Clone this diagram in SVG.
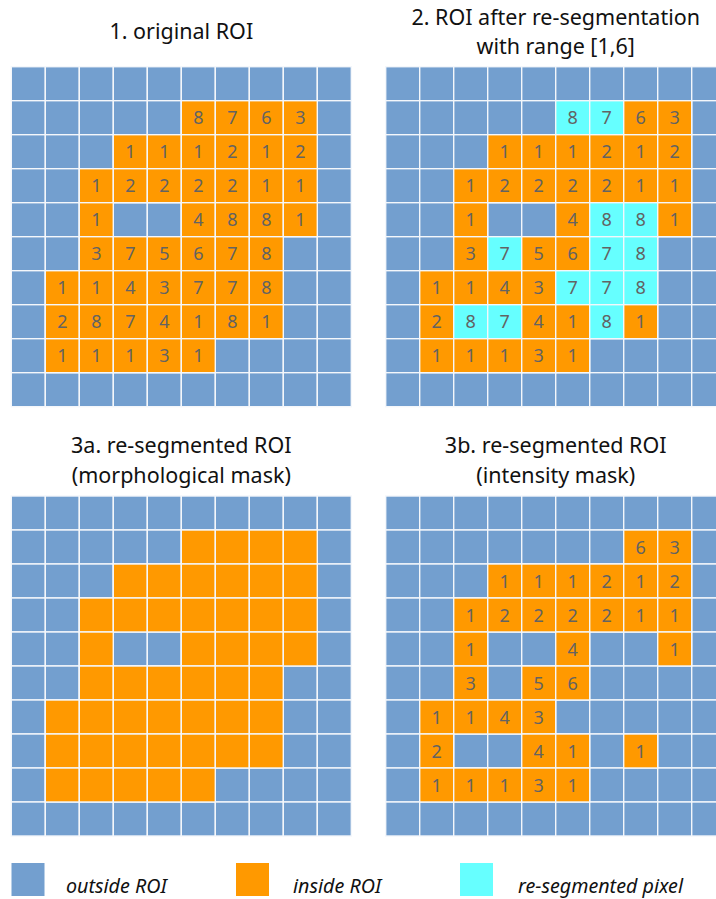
<svg xmlns="http://www.w3.org/2000/svg" width="716" height="899" viewBox="0 0 716 899">
<style>
.b{fill:#739fcf;stroke:#f4f7fb;stroke-width:1.4}
.o{fill:#ff9900;stroke:#f4f7fb;stroke-width:1.4}
.c{fill:#66ffff;stroke:#f4f7fb;stroke-width:1.4}
.n{font-family:"Noto Sans","Open Sans","Liberation Sans",sans-serif;font-size:18px;fill:#636363;text-anchor:middle}
.t{font-family:"Noto Sans","Open Sans","Liberation Sans",sans-serif;font-size:21.5px;fill:#111;text-anchor:middle}
.l{font-family:"Noto Sans","Open Sans","Liberation Sans",sans-serif;font-size:19.7px;font-style:italic;fill:#111}
</style>
<rect width="716" height="899" fill="#fff"/>
<defs>
<g id="bgrid">
<rect class="b" x="0" y="0" width="34" height="34"/><rect class="b" x="34" y="0" width="34" height="34"/><rect class="b" x="68" y="0" width="34" height="34"/><rect class="b" x="102" y="0" width="34" height="34"/><rect class="b" x="136" y="0" width="34" height="34"/><rect class="b" x="170" y="0" width="34" height="34"/><rect class="b" x="204" y="0" width="34" height="34"/><rect class="b" x="238" y="0" width="34" height="34"/><rect class="b" x="272" y="0" width="34" height="34"/><rect class="b" x="306" y="0" width="34" height="34"/>
</g>
<g id="grid10">
<use href="#bgrid" y="0"/><use href="#bgrid" y="34"/><use href="#bgrid" y="68"/><use href="#bgrid" y="102"/><use href="#bgrid" y="136"/><use href="#bgrid" y="170"/><use href="#bgrid" y="204"/><use href="#bgrid" y="238"/><use href="#bgrid" y="272"/><use href="#bgrid" y="306"/>
</g>
</defs>

<g id="panel1" transform="translate(11.3,66.7)">
<use href="#grid10"/>
<g>
<rect class="o" x="170" y="34" width="34" height="34"/><rect class="o" x="204" y="34" width="34" height="34"/><rect class="o" x="238" y="34" width="34" height="34"/><rect class="o" x="272" y="34" width="34" height="34"/>
<rect class="o" x="102" y="68" width="34" height="34"/><rect class="o" x="136" y="68" width="34" height="34"/><rect class="o" x="170" y="68" width="34" height="34"/><rect class="o" x="204" y="68" width="34" height="34"/><rect class="o" x="238" y="68" width="34" height="34"/><rect class="o" x="272" y="68" width="34" height="34"/>
<rect class="o" x="68" y="102" width="34" height="34"/><rect class="o" x="102" y="102" width="34" height="34"/><rect class="o" x="136" y="102" width="34" height="34"/><rect class="o" x="170" y="102" width="34" height="34"/><rect class="o" x="204" y="102" width="34" height="34"/><rect class="o" x="238" y="102" width="34" height="34"/><rect class="o" x="272" y="102" width="34" height="34"/>
<rect class="o" x="68" y="136" width="34" height="34"/><rect class="o" x="170" y="136" width="34" height="34"/><rect class="o" x="204" y="136" width="34" height="34"/><rect class="o" x="238" y="136" width="34" height="34"/><rect class="o" x="272" y="136" width="34" height="34"/>
<rect class="o" x="68" y="170" width="34" height="34"/><rect class="o" x="102" y="170" width="34" height="34"/><rect class="o" x="136" y="170" width="34" height="34"/><rect class="o" x="170" y="170" width="34" height="34"/><rect class="o" x="204" y="170" width="34" height="34"/><rect class="o" x="238" y="170" width="34" height="34"/>
<rect class="o" x="34" y="204" width="34" height="34"/><rect class="o" x="68" y="204" width="34" height="34"/><rect class="o" x="102" y="204" width="34" height="34"/><rect class="o" x="136" y="204" width="34" height="34"/><rect class="o" x="170" y="204" width="34" height="34"/><rect class="o" x="204" y="204" width="34" height="34"/><rect class="o" x="238" y="204" width="34" height="34"/>
<rect class="o" x="34" y="238" width="34" height="34"/><rect class="o" x="68" y="238" width="34" height="34"/><rect class="o" x="102" y="238" width="34" height="34"/><rect class="o" x="136" y="238" width="34" height="34"/><rect class="o" x="170" y="238" width="34" height="34"/><rect class="o" x="204" y="238" width="34" height="34"/><rect class="o" x="238" y="238" width="34" height="34"/>
<rect class="o" x="34" y="272" width="34" height="34"/><rect class="o" x="68" y="272" width="34" height="34"/><rect class="o" x="102" y="272" width="34" height="34"/><rect class="o" x="136" y="272" width="34" height="34"/><rect class="o" x="170" y="272" width="34" height="34"/>
</g>
<g class="n">
<text x="187" y="57.5">8</text><text x="221" y="57.5">7</text><text x="255" y="57.5">6</text><text x="289" y="57.5">3</text>
<text x="119" y="91.5">1</text><text x="153" y="91.5">1</text><text x="187" y="91.5">1</text><text x="221" y="91.5">2</text><text x="255" y="91.5">1</text><text x="289" y="91.5">2</text>
<text x="85" y="125.5">1</text><text x="119" y="125.5">2</text><text x="153" y="125.5">2</text><text x="187" y="125.5">2</text><text x="221" y="125.5">2</text><text x="255" y="125.5">1</text><text x="289" y="125.5">1</text>
<text x="85" y="159.5">1</text><text x="187" y="159.5">4</text><text x="221" y="159.5">8</text><text x="255" y="159.5">8</text><text x="289" y="159.5">1</text>
<text x="85" y="193.5">3</text><text x="119" y="193.5">7</text><text x="153" y="193.5">5</text><text x="187" y="193.5">6</text><text x="221" y="193.5">7</text><text x="255" y="193.5">8</text>
<text x="51" y="227.5">1</text><text x="85" y="227.5">1</text><text x="119" y="227.5">4</text><text x="153" y="227.5">3</text><text x="187" y="227.5">7</text><text x="221" y="227.5">7</text><text x="255" y="227.5">8</text>
<text x="51" y="261.5">2</text><text x="85" y="261.5">8</text><text x="119" y="261.5">7</text><text x="153" y="261.5">4</text><text x="187" y="261.5">1</text><text x="221" y="261.5">8</text><text x="255" y="261.5">1</text>
<text x="51" y="295.5">1</text><text x="85" y="295.5">1</text><text x="119" y="295.5">1</text><text x="153" y="295.5">3</text><text x="187" y="295.5">1</text>
</g>
</g>
<text class="t" x="181.3" y="39">1. original ROI</text>

<g id="panel2" transform="translate(385.7,66.7)">
<use href="#grid10"/>
<g>
<rect class="c" x="170" y="34" width="34" height="34"/><rect class="c" x="204" y="34" width="34" height="34"/><rect class="o" x="238" y="34" width="34" height="34"/><rect class="o" x="272" y="34" width="34" height="34"/>
<rect class="o" x="102" y="68" width="34" height="34"/><rect class="o" x="136" y="68" width="34" height="34"/><rect class="o" x="170" y="68" width="34" height="34"/><rect class="o" x="204" y="68" width="34" height="34"/><rect class="o" x="238" y="68" width="34" height="34"/><rect class="o" x="272" y="68" width="34" height="34"/>
<rect class="o" x="68" y="102" width="34" height="34"/><rect class="o" x="102" y="102" width="34" height="34"/><rect class="o" x="136" y="102" width="34" height="34"/><rect class="o" x="170" y="102" width="34" height="34"/><rect class="o" x="204" y="102" width="34" height="34"/><rect class="o" x="238" y="102" width="34" height="34"/><rect class="o" x="272" y="102" width="34" height="34"/>
<rect class="o" x="68" y="136" width="34" height="34"/><rect class="o" x="170" y="136" width="34" height="34"/><rect class="c" x="204" y="136" width="34" height="34"/><rect class="c" x="238" y="136" width="34" height="34"/><rect class="o" x="272" y="136" width="34" height="34"/>
<rect class="o" x="68" y="170" width="34" height="34"/><rect class="c" x="102" y="170" width="34" height="34"/><rect class="o" x="136" y="170" width="34" height="34"/><rect class="o" x="170" y="170" width="34" height="34"/><rect class="c" x="204" y="170" width="34" height="34"/><rect class="c" x="238" y="170" width="34" height="34"/>
<rect class="o" x="34" y="204" width="34" height="34"/><rect class="o" x="68" y="204" width="34" height="34"/><rect class="o" x="102" y="204" width="34" height="34"/><rect class="o" x="136" y="204" width="34" height="34"/><rect class="c" x="170" y="204" width="34" height="34"/><rect class="c" x="204" y="204" width="34" height="34"/><rect class="c" x="238" y="204" width="34" height="34"/>
<rect class="o" x="34" y="238" width="34" height="34"/><rect class="c" x="68" y="238" width="34" height="34"/><rect class="c" x="102" y="238" width="34" height="34"/><rect class="o" x="136" y="238" width="34" height="34"/><rect class="o" x="170" y="238" width="34" height="34"/><rect class="c" x="204" y="238" width="34" height="34"/><rect class="o" x="238" y="238" width="34" height="34"/>
<rect class="o" x="34" y="272" width="34" height="34"/><rect class="o" x="68" y="272" width="34" height="34"/><rect class="o" x="102" y="272" width="34" height="34"/><rect class="o" x="136" y="272" width="34" height="34"/><rect class="o" x="170" y="272" width="34" height="34"/>
</g>
<g class="n">
<text x="187" y="57.5">8</text><text x="221" y="57.5">7</text><text x="255" y="57.5">6</text><text x="289" y="57.5">3</text>
<text x="119" y="91.5">1</text><text x="153" y="91.5">1</text><text x="187" y="91.5">1</text><text x="221" y="91.5">2</text><text x="255" y="91.5">1</text><text x="289" y="91.5">2</text>
<text x="85" y="125.5">1</text><text x="119" y="125.5">2</text><text x="153" y="125.5">2</text><text x="187" y="125.5">2</text><text x="221" y="125.5">2</text><text x="255" y="125.5">1</text><text x="289" y="125.5">1</text>
<text x="85" y="159.5">1</text><text x="187" y="159.5">4</text><text x="221" y="159.5">8</text><text x="255" y="159.5">8</text><text x="289" y="159.5">1</text>
<text x="85" y="193.5">3</text><text x="119" y="193.5">7</text><text x="153" y="193.5">5</text><text x="187" y="193.5">6</text><text x="221" y="193.5">7</text><text x="255" y="193.5">8</text>
<text x="51" y="227.5">1</text><text x="85" y="227.5">1</text><text x="119" y="227.5">4</text><text x="153" y="227.5">3</text><text x="187" y="227.5">7</text><text x="221" y="227.5">7</text><text x="255" y="227.5">8</text>
<text x="51" y="261.5">2</text><text x="85" y="261.5">8</text><text x="119" y="261.5">7</text><text x="153" y="261.5">4</text><text x="187" y="261.5">1</text><text x="221" y="261.5">8</text><text x="255" y="261.5">1</text>
<text x="51" y="295.5">1</text><text x="85" y="295.5">1</text><text x="119" y="295.5">1</text><text x="153" y="295.5">3</text><text x="187" y="295.5">1</text>
</g>
</g>
<text class="t" x="555.7" y="25">2. ROI after re-segmentation</text>
<text class="t" x="555.7" y="54">with range [1,6]</text>

<g id="panel3a" transform="translate(11.3,496)">
<use href="#grid10"/>
<g>
<rect class="o" x="170" y="34" width="34" height="34"/><rect class="o" x="204" y="34" width="34" height="34"/><rect class="o" x="238" y="34" width="34" height="34"/><rect class="o" x="272" y="34" width="34" height="34"/>
<rect class="o" x="102" y="68" width="34" height="34"/><rect class="o" x="136" y="68" width="34" height="34"/><rect class="o" x="170" y="68" width="34" height="34"/><rect class="o" x="204" y="68" width="34" height="34"/><rect class="o" x="238" y="68" width="34" height="34"/><rect class="o" x="272" y="68" width="34" height="34"/>
<rect class="o" x="68" y="102" width="34" height="34"/><rect class="o" x="102" y="102" width="34" height="34"/><rect class="o" x="136" y="102" width="34" height="34"/><rect class="o" x="170" y="102" width="34" height="34"/><rect class="o" x="204" y="102" width="34" height="34"/><rect class="o" x="238" y="102" width="34" height="34"/><rect class="o" x="272" y="102" width="34" height="34"/>
<rect class="o" x="68" y="136" width="34" height="34"/><rect class="o" x="170" y="136" width="34" height="34"/><rect class="o" x="204" y="136" width="34" height="34"/><rect class="o" x="238" y="136" width="34" height="34"/><rect class="o" x="272" y="136" width="34" height="34"/>
<rect class="o" x="68" y="170" width="34" height="34"/><rect class="o" x="102" y="170" width="34" height="34"/><rect class="o" x="136" y="170" width="34" height="34"/><rect class="o" x="170" y="170" width="34" height="34"/><rect class="o" x="204" y="170" width="34" height="34"/><rect class="o" x="238" y="170" width="34" height="34"/>
<rect class="o" x="34" y="204" width="34" height="34"/><rect class="o" x="68" y="204" width="34" height="34"/><rect class="o" x="102" y="204" width="34" height="34"/><rect class="o" x="136" y="204" width="34" height="34"/><rect class="o" x="170" y="204" width="34" height="34"/><rect class="o" x="204" y="204" width="34" height="34"/><rect class="o" x="238" y="204" width="34" height="34"/>
<rect class="o" x="34" y="238" width="34" height="34"/><rect class="o" x="68" y="238" width="34" height="34"/><rect class="o" x="102" y="238" width="34" height="34"/><rect class="o" x="136" y="238" width="34" height="34"/><rect class="o" x="170" y="238" width="34" height="34"/><rect class="o" x="204" y="238" width="34" height="34"/><rect class="o" x="238" y="238" width="34" height="34"/>
<rect class="o" x="34" y="272" width="34" height="34"/><rect class="o" x="68" y="272" width="34" height="34"/><rect class="o" x="102" y="272" width="34" height="34"/><rect class="o" x="136" y="272" width="34" height="34"/><rect class="o" x="170" y="272" width="34" height="34"/>
</g>
</g>
<text class="t" x="181.3" y="453">3a. re-segmented ROI</text>
<text class="t" x="181.3" y="483">(morphological mask)</text>

<g id="panel3b" transform="translate(385.7,496)">
<use href="#grid10"/>
<g>
<rect class="o" x="238" y="34" width="34" height="34"/><rect class="o" x="272" y="34" width="34" height="34"/>
<rect class="o" x="102" y="68" width="34" height="34"/><rect class="o" x="136" y="68" width="34" height="34"/><rect class="o" x="170" y="68" width="34" height="34"/><rect class="o" x="204" y="68" width="34" height="34"/><rect class="o" x="238" y="68" width="34" height="34"/><rect class="o" x="272" y="68" width="34" height="34"/>
<rect class="o" x="68" y="102" width="34" height="34"/><rect class="o" x="102" y="102" width="34" height="34"/><rect class="o" x="136" y="102" width="34" height="34"/><rect class="o" x="170" y="102" width="34" height="34"/><rect class="o" x="204" y="102" width="34" height="34"/><rect class="o" x="238" y="102" width="34" height="34"/><rect class="o" x="272" y="102" width="34" height="34"/>
<rect class="o" x="68" y="136" width="34" height="34"/><rect class="o" x="170" y="136" width="34" height="34"/><rect class="o" x="272" y="136" width="34" height="34"/>
<rect class="o" x="68" y="170" width="34" height="34"/><rect class="o" x="136" y="170" width="34" height="34"/><rect class="o" x="170" y="170" width="34" height="34"/>
<rect class="o" x="34" y="204" width="34" height="34"/><rect class="o" x="68" y="204" width="34" height="34"/><rect class="o" x="102" y="204" width="34" height="34"/><rect class="o" x="136" y="204" width="34" height="34"/>
<rect class="o" x="34" y="238" width="34" height="34"/><rect class="o" x="136" y="238" width="34" height="34"/><rect class="o" x="170" y="238" width="34" height="34"/><rect class="o" x="238" y="238" width="34" height="34"/>
<rect class="o" x="34" y="272" width="34" height="34"/><rect class="o" x="68" y="272" width="34" height="34"/><rect class="o" x="102" y="272" width="34" height="34"/><rect class="o" x="136" y="272" width="34" height="34"/><rect class="o" x="170" y="272" width="34" height="34"/>
</g>
<g class="n">
<text x="255" y="57.5">6</text><text x="289" y="57.5">3</text>
<text x="119" y="91.5">1</text><text x="153" y="91.5">1</text><text x="187" y="91.5">1</text><text x="221" y="91.5">2</text><text x="255" y="91.5">1</text><text x="289" y="91.5">2</text>
<text x="85" y="125.5">1</text><text x="119" y="125.5">2</text><text x="153" y="125.5">2</text><text x="187" y="125.5">2</text><text x="221" y="125.5">2</text><text x="255" y="125.5">1</text><text x="289" y="125.5">1</text>
<text x="85" y="159.5">1</text><text x="187" y="159.5">4</text><text x="289" y="159.5">1</text>
<text x="85" y="193.5">3</text><text x="153" y="193.5">5</text><text x="187" y="193.5">6</text>
<text x="51" y="227.5">1</text><text x="85" y="227.5">1</text><text x="119" y="227.5">4</text><text x="153" y="227.5">3</text>
<text x="51" y="261.5">2</text><text x="153" y="261.5">4</text><text x="187" y="261.5">1</text><text x="255" y="261.5">1</text>
<text x="51" y="295.5">1</text><text x="85" y="295.5">1</text><text x="119" y="295.5">1</text><text x="153" y="295.5">3</text><text x="187" y="295.5">1</text>
</g>
</g>
<text class="t" x="555.7" y="453">3b. re-segmented ROI</text>
<text class="t" x="555.7" y="483">(intensity mask)</text>

<g id="legend">
<rect x="11.5" y="863" width="33" height="33" fill="#739fcf"/>
<text class="l" x="66" y="892.5">outside ROI</text>
<rect x="236" y="863" width="33" height="33" fill="#ff9900"/>
<text class="l" x="293" y="892.5">inside ROI</text>
<rect x="460" y="863" width="33" height="33" fill="#66ffff"/>
<text class="l" x="518" y="892.5">re-segmented pixel</text>
</g>
</svg>
